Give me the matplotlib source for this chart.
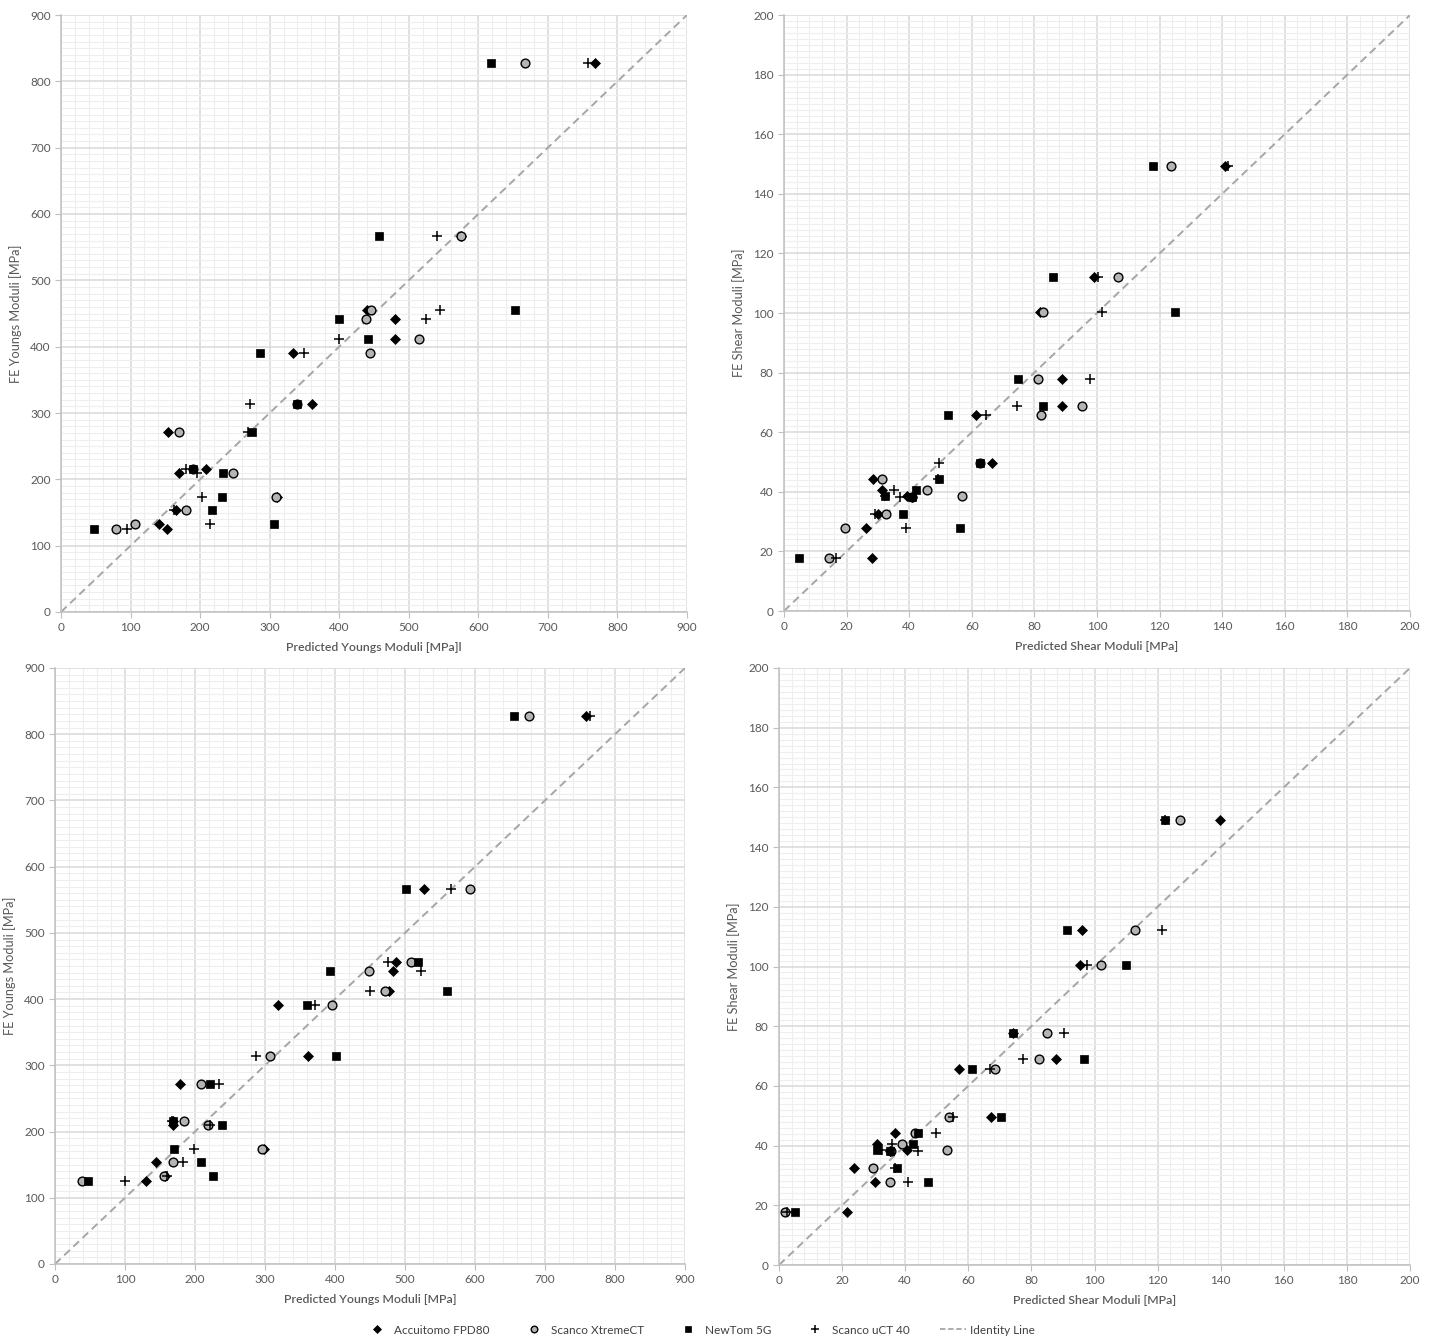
import matplotlib
matplotlib.use("Agg")
import matplotlib.pyplot as plt
from matplotlib.ticker import MultipleLocator
from matplotlib.lines import Line2D

plt.rcParams['font.family'] = ['Lato', 'DejaVu Sans']

# FE reference values (shared y per specimen)
fe_young = [827, 567, 456, 442, 412, 391, 314, 272, 216, 210, 174, 154, 133, 125]
fe_shear = [149.2, 112.2, 100.5, 77.8, 68.9, 65.8, 49.7, 44.2, 40.6, 38.6, 38.1, 32.6, 27.7, 17.9]

series_names = ["Accuitomo FPD80", "Scanco XtremeCT", "NewTom 5G", "Scanco uCT 40"]

# top-left: predicted Young's moduli
accuitomo_young_a = [768, 575, 440, 480, 480, 333, 361, 154, 208, 170, 310, 165, 141, 152]
xtreme_young_a = [667, 575, 446, 438, 515, 444, 339, 170, 190, 247, 309, 180, 107, 79]
newtom_young_a = [618, 457, 653, 400, 441, 286, 339, 275, 190, 233, 232, 217, 306, 48]
uct40_young_a = [758, 540, 545, 525, 400, 349, 272, 269, 180, 195, 203, 163, 214, 95]

# top-right: predicted shear moduli
accuitomo_shear_a = [141.0, 99.0, 81.8, 88.7, 88.7, 61.3, 66.5, 28.5, 31.2, 39.4, 41.0, 30.0, 26.1, 28.1]
xtreme_shear_a = [123.6, 106.8, 82.6, 81.0, 95.1, 82.2, 62.6, 31.2, 45.6, 57.0, 41.0, 32.6, 19.6, 14.3]
newtom_shear_a = [117.9, 86.0, 124.9, 74.8, 82.8, 52.5, 62.6, 49.4, 42.1, 32.3, 41.0, 38.1, 56.3, 4.8]
uct40_shear_a = [141.8, 100.4, 101.5, 97.8, 74.3, 64.5, 49.6, 49.3, 35.2, 32.3, 37.1, 29.1, 38.9, 16.6]

# bottom-left: predicted Young's moduli
accuitomo_young_b = [758, 527, 487, 483, 477, 318, 361, 179, 168, 169, 298, 144, 157, 130]
xtreme_young_b = [677, 593, 509, 449, 471, 395, 307, 208, 184, 218, 296, 168, 156, 39]
newtom_young_b = [656, 501, 519, 393, 560, 360, 402, 222, 168, 238, 170, 208, 226, 47]
uct40_young_b = [764, 565, 476, 523, 450, 371, 287, 234, 167, 221, 199, 183, 160, 100]

# bottom-right: predicted shear moduli
accuitomo_shear_b = [139.8, 96.1, 95.4, 74.3, 87.8, 57.2, 67.1, 36.8, 31.0, 40.7, 35.3, 23.8, 30.4, 21.5]
xtreme_shear_b = [127.2, 112.9, 102.0, 84.8, 82.5, 68.5, 54.0, 43.0, 38.9, 53.3, 35.5, 29.7, 35.2, 1.9]
newtom_shear_b = [122.3, 91.4, 110.0, 74.3, 96.8, 61.2, 70.3, 44.2, 42.6, 31.0, 35.2, 37.3, 47.3, 5.1]
uct40_shear_b = [122.3, 121.3, 97.5, 90.4, 77.4, 66.9, 55.3, 49.8, 35.7, 32.5, 44.2, 36.8, 41.0, 2.4]

STYLES = [
    dict(marker="D", ms=5.2, mfc="black", mec="black", mew=0.5),
    dict(marker="o", ms=6.3, mfc="#b4b4b4", mec="black", mew=1.0),
    dict(marker="s", ms=6.3, mfc="black", mec="black", mew=0.5),
    dict(marker="+", ms=7.5, mfc="none", mec="black", mew=1.1),
]
TXT = "#595959"
GRID = "#d9d9d9"


def panel(rect, xs_list, fe, lim, major, xminor, yminor, xlabel, ylabel):
    ax = fig.add_axes(rect)
    ax.set_xlim(0, lim)
    ax.set_ylim(0, lim)
    ax.xaxis.set_major_locator(MultipleLocator(major))
    ax.yaxis.set_major_locator(MultipleLocator(major))
    ax.xaxis.set_minor_locator(MultipleLocator(xminor))
    ax.yaxis.set_minor_locator(MultipleLocator(yminor))
    ax.grid(which="major", color=GRID, lw=1.1, zorder=0)
    ax.grid(which="minor", color="#eeeeee", lw=0.8, zorder=0)
    ax.set_axisbelow(True)
    for s in ("top", "right"):
        ax.spines[s].set_visible(False)
    for s in ("left", "bottom"):
        ax.spines[s].set_color("#bfbfbf")
        ax.spines[s].set_linewidth(1.1)
    ax.tick_params(which="major", length=4, color="#bfbfbf", labelcolor=TXT, labelsize=8.5)
    ax.tick_params(which="minor", length=0)
    ax.plot([0, lim], [0, lim], ls=(0, (4, 2.5)), color="#a6a6a6", lw=1.4, zorder=2)
    for xs, st in zip(xs_list, STYLES):
        ax.plot(xs, fe, ls="none", zorder=3, **st)
    ax.set_xlabel(xlabel, color=TXT, fontsize=8.8, fontweight="semibold", labelpad=6)
    ax.set_ylabel(ylabel, color=TXT, fontsize=9.2, labelpad=6)
    return ax


W, H = 1434, 1337
fig = plt.figure(figsize=(W / 100, H / 100), dpi=100)


def px_rect(l, t, r, b):
    return [l / W, 1 - b / H, (r - l) / W, (b - t) / H]


panel(px_rect(61, 15, 687, 612),
      [accuitomo_young_a, xtreme_young_a, newtom_young_a, uct40_young_a],
      fe_young, 900, 100, 20, 10,
      "Predicted Youngs Moduli [MPa]l", "FE Youngs Moduli [MPa]")
panel(px_rect(784, 15, 1410, 611),
      [accuitomo_shear_a, xtreme_shear_a, newtom_shear_a, uct40_shear_a],
      fe_shear, 200, 20, 4, 2,
      "Predicted Shear Moduli [MPa]", "FE Shear Moduli [MPa]")
panel(px_rect(55, 668, 685, 1264),
      [accuitomo_young_b, xtreme_young_b, newtom_young_b, uct40_young_b],
      fe_young, 900, 100, 20, 10,
      "Predicted Youngs Moduli [MPa]", "FE Youngs Moduli [MPa]")
panel(px_rect(779, 668, 1410, 1265),
      [accuitomo_shear_b, xtreme_shear_b, newtom_shear_b, uct40_shear_b],
      fe_shear, 200, 20, 4, 2,
      "Predicted Shear Moduli [MPa]", "FE Shear Moduli [MPa]")

handles = []
for name, st in zip(series_names, STYLES):
    small = dict(st)
    small["ms"] = st["ms"] * 0.75
    handles.append(Line2D([], [], ls="none", label=name, **small))
handles.append(Line2D([], [], ls=(0, (3, 1.5)), color="#a6a6a6", lw=1.3, label="Identity Line"))
fig.legend(handles=handles, loc="center", bbox_to_anchor=(0.488, 1 - 1330 / H), ncol=5,
           frameon=False, fontsize=8.5, labelcolor="#404040", handlelength=2.2,
           handletextpad=0.35, columnspacing=2.6)

fig.savefig("out.png", dpi=100)
